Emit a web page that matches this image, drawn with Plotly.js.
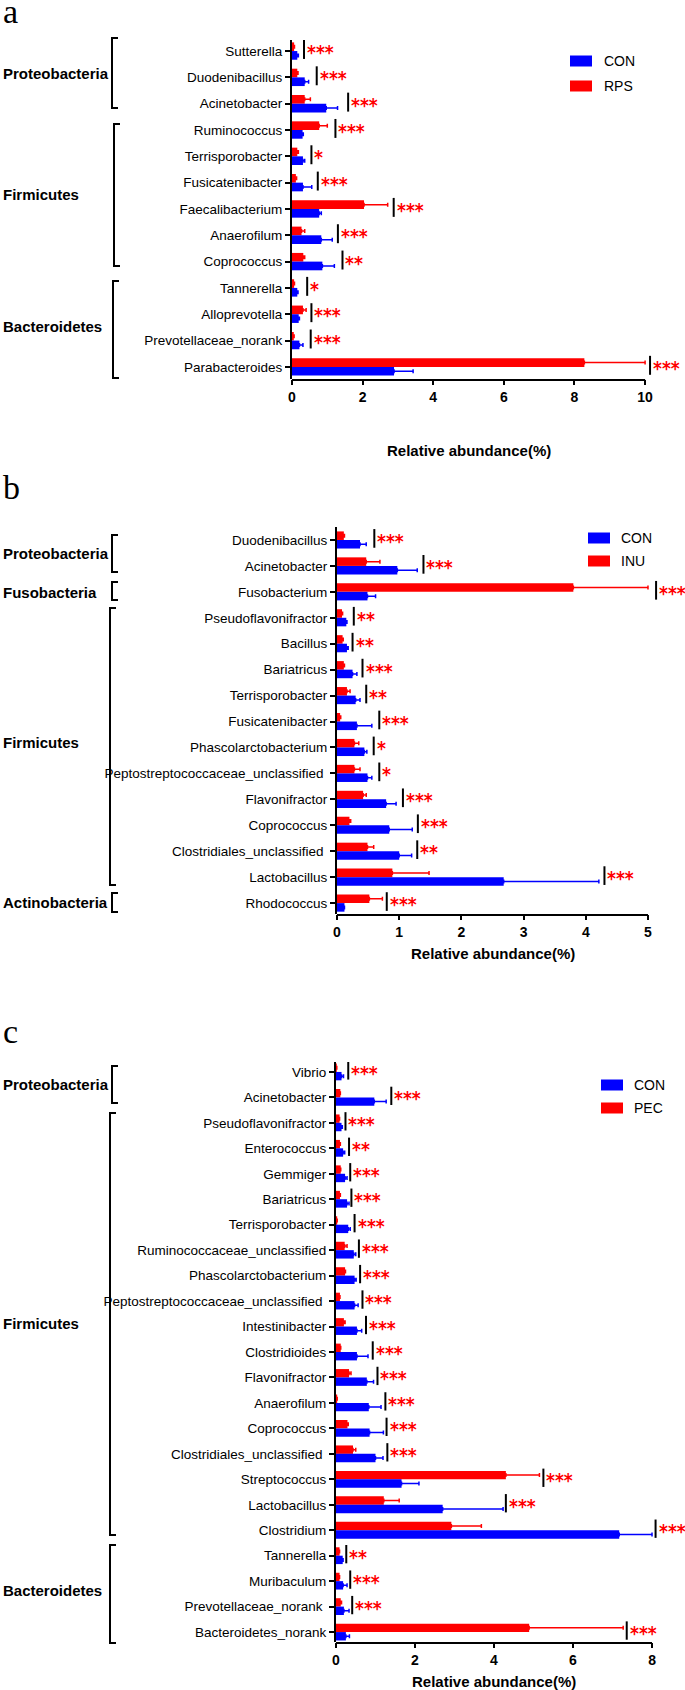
<!DOCTYPE html>
<html>
<head>
<meta charset="utf-8">
<script src="https://cdn.plot.ly/plotly-3.0.1.min.js"></script>
<style>html,body{margin:0;padding:0;background:#fff;}#chart{width:685px;height:1690px;}</style>
</head>
<body>
<div id="chart"></div>
<script>
// ---------- Panel a data ----------
const catsA = ['Sutterella','Duodenibacillus','Acinetobacter','Ruminococcus','Terrisporobacter','Fusicatenibacter','Faecalibacterium','Anaerofilum','Coprococcus','Tannerella','Alloprevotella','Prevotellaceae_norank','Parabacteroides'];
const rpsA    = [0.06,0.15,0.36,0.77,0.15,0.11,2.04,0.27,0.32,0.06,0.31,0.05,8.28];
const rpsErrA = [0.01,0.02,0.16,0.23,0.03,0.02,0.67,0.09,0.04,0.01,0.09,0.01,1.72];
const conA    = [0.15,0.36,0.97,0.30,0.31,0.31,0.77,0.83,0.86,0.15,0.19,0.21,2.89];
const conErrA = [0.03,0.11,0.32,0.02,0.05,0.25,0.06,0.31,0.34,0.02,0.02,0.10,0.54];
const sigA    = [0.34,0.70,1.59,1.23,0.55,0.73,2.88,1.30,1.43,0.43,0.55,0.53,10.14];
const starsA  = ['***','***','***','***','*','***','***','***','**','*','***','***','***'];

// ---------- Panel b data ----------
const catsB = ['Duodenibacillus','Acinetobacter','Fusobacterium','Pseudoflavonifractor','Bacillus','Bariatricus','Terrisporobacter','Fusicatenibacter','Phascolarctobacterium','Peptostreptococcaceae_unclassified','Flavonifractor','Coprococcus','Clostridiales_unclassified','Lactobacillus','Rhodococcus'];
const inuB    = [0.11,0.47,3.80,0.08,0.09,0.11,0.16,0.05,0.28,0.28,0.42,0.20,0.49,0.89,0.52];
const inuErrB = [0.01,0.22,1.20,0.01,0.01,0.01,0.05,0.01,0.07,0.09,0.05,0.02,0.10,0.59,0.21];
const conB    = [0.37,0.97,0.49,0.15,0.16,0.25,0.30,0.32,0.44,0.49,0.79,0.84,1.00,2.68,0.12];
const conErrB = [0.10,0.32,0.13,0.01,0.02,0.07,0.07,0.24,0.04,0.07,0.16,0.37,0.20,1.53,0.00];
const sigB    = [0.60,1.39,5.13,0.27,0.25,0.41,0.47,0.68,0.59,0.68,1.06,1.30,1.29,4.30,0.80];
const starsB  = ['***','***','***','**','**','***','**','***','*','*','***','***','**','***','***'];

// ---------- Panel c data ----------
const catsC = ['Vibrio','Acinetobacter','Pseudoflavonifractor','Enterococcus','Gemmiger','Bariatricus','Terrisporobacter','Ruminococcaceae_unclassified','Phascolarctobacterium','Peptostreptococcaceae_unclassified','Intestinibacter','Clostridioides','Flavonifractor','Anaerofilum','Coprococcus','Clostridiales_unclassified','Streptococcus','Lactobacillus','Clostridium','Tannerella','Muribaculum','Prevotellaceae_norank','Bacteroidetes_norank'];
const pecC    = [0.02,0.11,0.09,0.10,0.12,0.10,0.03,0.22,0.23,0.10,0.20,0.12,0.33,0.03,0.29,0.43,4.30,1.21,2.92,0.09,0.09,0.12,4.89];
const pecErrC = [0.00,0.00,0.00,0.01,0.00,0.01,0.00,0.06,0.01,0.00,0.03,0.00,0.05,0.00,0.02,0.07,0.85,0.39,0.76,0.00,0.00,0.02,2.38];
const conC    = [0.14,0.97,0.14,0.18,0.23,0.28,0.31,0.45,0.47,0.47,0.53,0.53,0.78,0.83,0.85,1.00,1.66,2.70,7.17,0.17,0.18,0.20,0.25];
const conErrC = [0.05,0.30,0.02,0.04,0.05,0.05,0.05,0.05,0.04,0.09,0.12,0.28,0.17,0.31,0.35,0.19,0.44,1.53,0.83,0.01,0.10,0.13,0.09];
const sigC    = [0.31,1.40,0.24,0.33,0.36,0.39,0.47,0.58,0.61,0.67,0.76,0.93,1.05,1.25,1.28,1.30,5.25,4.30,8.09,0.26,0.36,0.41,7.36];
const starsC  = ['***','***','***','**','***','***','***','***','***','***','***','***','***','***','***','***','***','***','***','**','***','***','***'];

// group (phylum) labels
const groupsA = ['Proteobacteria','Firmicutes','Bacteroidetes'];
const groupsB = ['Proteobacteria','Fusobacteria','Firmicutes','Actinobacteria'];
const groupsC = ['Proteobacteria','Firmicutes','Bacteroidetes'];
const panelLetters = ['a','b','c'];
const treatNames = ['RPS','INU','PEC'];
const xTicksA = [0,2,4,6,8,10];
const xTicksB = [0,1,2,3,4,5];
const xTicksC = [0,2,4,6,8];
const axisTitle = 'Relative abundance(%)';
const padded = ['Peptostreptococcaceae_unclassified','Clostridiales_unclassified'];

// ---------- layout helpers (pixel -> paper) ----------
const W = 685, H = 1690;
const px = x => x / W;
const py = y => 1 - y / H;
const RED = '#ff0000', BLUE = '#0000ff';
const FONT = 'Liberation Sans, Arial, sans-serif';
const STARFONT = 'DejaVu Sans Condensed, DejaVu Sans, sans-serif';

const panels = [
  {cats: catsA, trt: rpsA, trtErr: rpsErrA, con: conA, conErr: conErrA, sig: sigA, stars: starsA,
   name: treatNames[0], xa: 'x', ya: 'y', ticks: xTicksA, range: [0, 11.13], xdom: [292, 685], ydom: [40, 379],
   yrange: [12.46, -0.42], pad: [],
   groups: groupsA, groupY: [73, 194, 327], brackets: [[112, 38, 108], [114, 124, 266], [113, 281, 378]],
   legend: {x: 570, y: [61, 86], tx: 602}, letter: {x: 2, y: 12}, titleY: 450},
  {cats: catsB, trt: inuB, trtErr: inuErrB, con: conB, conErr: conErrB, sig: sigB, stars: starsB,
   name: treatNames[1], xa: 'x2', ya: 'y2', ticks: xTicksB, range: [0, 5.595], xdom: [337, 685], ydom: [527, 914],
   yrange: [14.42, -0.5], pad: padded,
   groups: groupsB, groupY: [553, 592, 742, 902], brackets: [[112, 535, 572], [112, 582, 600], [110, 608, 885], [112, 893, 912]],
   legend: {x: 588, y: [538, 561], tx: 619}, letter: {x: 2, y: 487}, titleY: 953},
  {cats: catsC, trt: pecC, trtErr: pecErrC, con: conC, conErr: conErrC, sig: sigC, stars: starsC,
   name: treatNames[2], xa: 'x3', ya: 'y3', ticks: xTicksC, range: [0, 8.835], xdom: [336, 685], ydom: [1062, 1642],
   yrange: [22.39, -0.39], pad: padded.concat(['Prevotellaceae_norank']),
   groups: groupsC, groupY: [1084, 1323, 1590], brackets: [[112, 1066, 1103], [110, 1113, 1535], [110, 1545, 1643]],
   legend: {x: 601, y: [1085, 1108], tx: 632}, letter: {x: 2, y: 1031}, titleY: 1681}
];

const traces = [];
const layout = {
  width: W, height: H,
  margin: {l: 0, r: 0, t: 0, b: 0},
  paper_bgcolor: '#fff', plot_bgcolor: '#fff',
  barmode: 'group', bargap: 0.34, bargroupgap: 0,
  showlegend: false,
  font: {family: FONT, color: '#000'},
  shapes: [], annotations: []
};

panels.forEach((p, k) => {
  const xKey = k === 0 ? 'xaxis' : 'xaxis' + (k + 1);
  const yKey = k === 0 ? 'yaxis' : 'yaxis' + (k + 1);
  // treatment (red) first -> upper bar of each pair with reversed axis
  traces.push({
    type: 'bar', orientation: 'h', name: p.name, x: p.trt, y: p.cats, xaxis: p.xa, yaxis: p.ya,
    marker: {color: RED, line: {width: 0}},
    error_x: {type: 'data', array: p.trtErr, arrayminus: p.trt.map(() => 0), symmetric: false, color: RED, thickness: 1.5, width: 2},
    hoverinfo: 'x+y'
  });
  traces.push({
    type: 'bar', orientation: 'h', name: 'CON', x: p.con, y: p.cats, xaxis: p.xa, yaxis: p.ya,
    marker: {color: BLUE, line: {width: 0}},
    error_x: {type: 'data', array: p.conErr, arrayminus: p.con.map(() => 0), symmetric: false, color: BLUE, thickness: 1.5, width: 2},
    hoverinfo: 'x+y'
  });

  layout[xKey] = {
    domain: [px(p.xdom[0]), px(p.xdom[1])], anchor: p.ya, range: p.range,
    tickmode: 'array', tickvals: p.ticks, ticktext: p.ticks.map(String),
    ticks: 'outside', ticklen: 5, tickwidth: 2, tickcolor: '#000',
    showline: false,
    showgrid: false, zeroline: false, fixedrange: true,
    tickfont: {family: FONT, size: 14, weight: 700, color: '#000'}
  };
  layout[yKey] = {
    domain: [py(p.ydom[1]), py(p.ydom[0])], anchor: p.xa, type: 'category',
    categoryorder: 'array', categoryarray: p.cats, range: p.yrange,
    tickmode: 'array', tickvals: p.cats,
    ticktext: p.cats.map(c => p.pad.includes(c) ? c + '\u00a0' : c),
    ticks: 'outside', ticklen: 5, tickwidth: 2, tickcolor: '#000',
    showline: true, linewidth: 2, linecolor: '#000',
    showgrid: false, zeroline: false, fixedrange: true,
    tickfont: {family: FONT, size: 13.5, color: '#000'}
  };

  // x axis baseline, from 0 to the last tick only
  layout.shapes.push({
    type: 'line', xref: p.xa, yref: 'paper',
    x0: 0, x1: p.ticks[p.ticks.length - 1], y0: py(p.ydom[1] + 1), y1: py(p.ydom[1] + 1),
    line: {color: '#000', width: 2}
  });

  // significance lines + stars
  p.sig.forEach((s, i) => {
    layout.shapes.push({
      type: 'line', xref: p.xa, yref: p.ya, x0: s, x1: s, y0: i - 0.42, y1: i + 0.3,
      line: {color: '#000', width: 2}
    });
    layout.annotations.push({
      xref: p.xa, yref: p.ya, x: s, y: i, text: p.stars[i], showarrow: false,
      xanchor: 'left', yanchor: 'middle', xshift: 2, yshift: -1, borderpad: 0,
      font: {family: STARFONT, size: 19, weight: 700, color: RED}
    });
  });

  // axis title
  layout.annotations.push({
    xref: p.xa, yref: 'paper', x: p.ticks[p.ticks.length - 1] / 2, y: py(p.titleY),
    text: axisTitle, showarrow: false, xanchor: 'center', yanchor: 'middle',
    font: {family: FONT, size: 15, weight: 700, color: '#000'}
  });

  // panel letter
  layout.annotations.push({
    xref: 'paper', yref: 'paper', x: px(p.letter.x), y: py(p.letter.y),
    text: panelLetters[k], showarrow: false, xanchor: 'left', yanchor: 'middle', borderpad: 0,
    font: {family: 'Liberation Serif, Times New Roman, serif', size: 34, color: '#000'}
  });

  // phylum labels + brackets
  p.groups.forEach((g, j) => {
    layout.annotations.push({
      xref: 'paper', yref: 'paper', x: px(1), y: py(p.groupY[j]), text: g, showarrow: false,
      xanchor: 'left', yanchor: 'middle', font: {family: FONT, size: 15, weight: 700, color: '#000'}
    });
    const b = p.brackets[j];
    layout.shapes.push({
      type: 'path', xref: 'paper', yref: 'paper',
      path: `M ${px(b[0] + 6)} ${py(b[1])} L ${px(b[0])} ${py(b[1])} L ${px(b[0])} ${py(b[2])} L ${px(b[0] + 6)} ${py(b[2])}`,
      line: {color: '#000', width: 2}
    });
  });

  // legend (CON then treatment)
  const legItems = [['CON', BLUE], [p.name, RED]];
  legItems.forEach((it, j) => {
    const cy = p.legend.y[j];
    layout.shapes.push({
      type: 'rect', xref: 'paper', yref: 'paper',
      x0: px(p.legend.x), x1: px(p.legend.x + 22), y0: py(cy + 5.5), y1: py(cy - 5.5),
      fillcolor: it[1], line: {width: 0}
    });
    layout.annotations.push({
      xref: 'paper', yref: 'paper', x: px(p.legend.tx), y: py(cy), text: it[0], showarrow: false,
      xanchor: 'left', yanchor: 'middle', font: {family: FONT, size: 14, color: '#000'}
    });
  });
});

Plotly.newPlot('chart', traces, layout, {displayModeBar: false, staticPlot: true});
</script>
</body>
</html>
